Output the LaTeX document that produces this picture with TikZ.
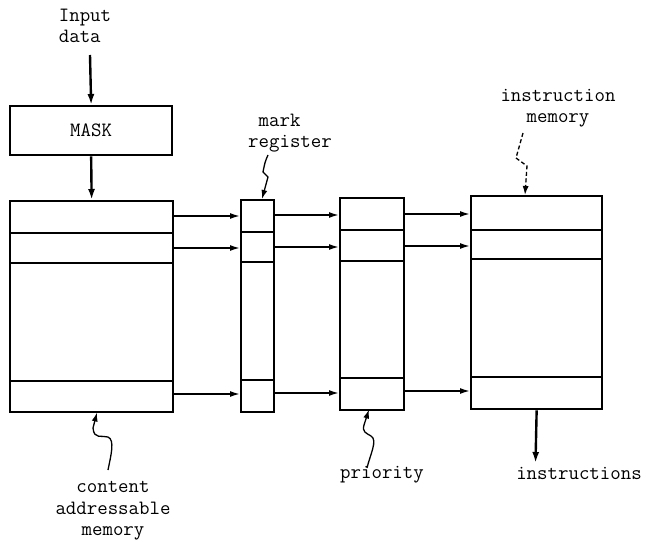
\documentclass[tikz,border=0pt]{standalone}
\usepackage{fontspec}
\usetikzlibrary{arrows.meta}
\begin{document}
\begin{tikzpicture}[x=1pt,y=-1pt,
  lbl/.style={font=\ttfamily\fontsize{20.3}{21.5}\selectfont,inner sep=0pt},
  box/.style={draw,line width=2.3pt,inner sep=0pt,anchor=north west,lbl},
  row/.style={line width=1.5pt},
  arr/.style={line width=1.6pt,-{Latex[length=10pt,width=6pt]}},
  thickarr/.style={line width=2.4pt,-{Latex[length=11pt,width=7pt]}},
  ptr/.style={line width=1.3pt,-{Latex[length=9pt,width=6pt]}}]
\useasboundingbox (0,0) rectangle (646,543);

% boxes
\node[box,minimum width=162pt,minimum height=49pt] (mask) at (9,105) {MASK};
\node[box,minimum width=163pt,minimum height=211pt] (cam) at (9,200) {};
\node[box,minimum width=33pt,minimum height=212pt] (mark) at (240,199) {};
\node[box,minimum width=64pt,minimum height=212pt] (prio) at (339,197) {};
\node[box,minimum width=131pt,minimum height=213pt] (instr) at (470,195) {};

% rows
\foreach \y in {233,263,381} \draw[row] (cam.west |- 0,\y) -- (cam.east |- 0,\y);
\foreach \y in {232,262,380} \draw[row] (mark.west |- 0,\y) -- (mark.east |- 0,\y);
\foreach \y in {230,261,378} \draw[row] (prio.west |- 0,\y) -- (prio.east |- 0,\y);
\foreach \y in {230,259,377} \draw[row] (instr.west |- 0,\y) -- (instr.east |- 0,\y);

% connecting arrows
\foreach \y in {216,248,394} \draw[arr] (cam.east |- 0,\y) -- (mark.west |- 0,\y);
\foreach \y in {215,247,393} \draw[arr] (mark.east |- 0,\y) -- (prio.west |- 0,\y);
\foreach \y in {214,246,391} \draw[arr] (prio.east |- 0,\y) -- (instr.west |- 0,\y);

% labels
\node[lbl,align=left] (inp) at (85,26) {Input\\data};
\node[lbl,align=left] (mrk) at (290,133) {\ mark\\register};
\node[lbl,align=center] (imlbl) at (558,108) {instruction\\memory};
\node[lbl,align=center] (camlbl) at (113,511) {content\\addressable\\memory};
\node[lbl] (priolbl) at (382,475) {priority};
\node[lbl] (outlbl) at (579,473) {instructions};

% vertical flow
\coordinate (iin) at (90,55);
\draw[thickarr] (iin) -- (mask.north);
\draw[thickarr] (mask.south) -- (cam.north);
\coordinate (iout) at (535.5,463);
\draw[thickarr] (instr.south) -- (iout);

% pointers
\coordinate (camp) at (108,470);
\coordinate (camt) at (97,412.5);
\draw[ptr] (camp) .. controls (111,455) and (115,440) .. (108,437)
  .. controls (102,435) and (94,440) .. (93,428) -- (camt);
\coordinate (priop) at (367,468);
\coordinate (priot) at (369,409.5);
\draw[ptr] (priop) .. controls (370,455) and (378,440) .. (371,436)
  .. controls (366,433) and (362,432) .. (364,425) -- (priot);
\coordinate (mrkp) at (268,155);
\coordinate (mrkt) at (262,199);
\draw[ptr] (mrkp) .. controls (265,162) .. (263,172) -- (268,177) -- (mrkt);
\coordinate (imp) at (523,133);
\coordinate (imt) at (525,195);
\draw[ptr,dashed,dash pattern=on 4pt off 2.5pt] (imp) -- (516,158) -- (527,166) -- (imt);
\end{tikzpicture}
\end{document}
